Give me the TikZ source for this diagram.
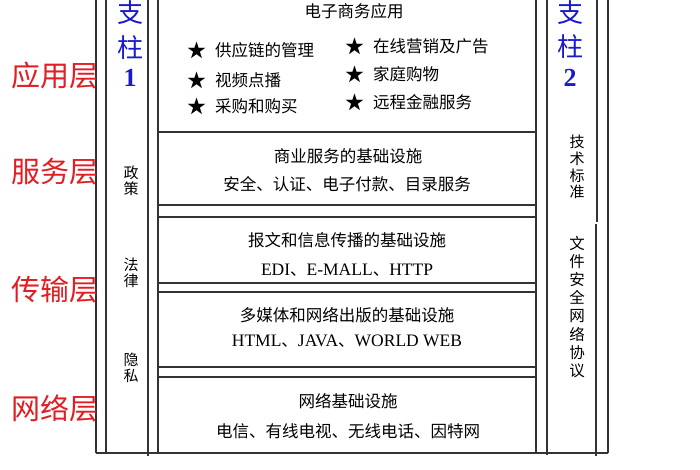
\documentclass[tikz,border=0pt]{standalone}
\usepackage{fontspec}
\setmainfont{Noto Sans CJK SC}
\newfontfamily\lat{Liberation Serif}
\newcommand{\latw}[1]{{\lat\fontsize{17.5}{18}\selectfont #1}}
\definecolor{layred}{RGB}{225,30,35}
\definecolor{pilblue}{RGB}{25,25,205}
\begin{document}
\begin{tikzpicture}[x=1pt,y=-1pt,
  frame/.style={line width=1.6pt, draw=black!80},
  body/.style={font=\fontsize{16.5}{18}\selectfont, inner sep=0pt},
  starmark/.style={font=\fontsize{19}{20}\selectfont, inner sep=0pt},
  layer/.style={font=\fontsize{29}{30}\selectfont, text=layred, inner sep=0pt},
  pillar/.style={font=\fontsize{26}{27}\selectfont, text=pilblue, inner sep=0pt},
  pnum/.style={font=\lat\bfseries\fontsize{26}{27}\selectfont, text=pilblue, inner sep=0pt},
  vert/.style={align=center, inner sep=0pt}]
\useasboundingbox (0,0) rectangle (700,470);
\fill[white] (0,0) rectangle (700,470);
% column lines
\draw[frame] (96,-3) -- (96,453);
\draw[frame] (106,-3) -- (106,453);
\draw[frame] (148,-3) -- (148,456);
\draw[frame] (547,-3) -- (547,455);
\draw[frame] (597,-3) -- (597,222);
\draw[frame] (596,224) -- (596,456);
\draw[frame] (608,-3) -- (608,453);
\draw[frame] (96,453) -- (608,453);
% layer boxes
\draw[frame] (158,-3) rectangle (536,132);
\draw[frame] (158,132) rectangle (536,205);
\draw[frame] (158,217) rectangle (536,283);
\draw[frame] (158,292) rectangle (536,367);
\draw[frame] (158,377) rectangle (536,453);
\draw[frame] (158,205) -- (158,377);
\draw[frame] (536,205) -- (536,377);
% box texts
\node[body] (t1) at (354,11) {电子商务应用};
\node[starmark] (s1) at (197,50) {★};
\node[body, anchor=west] (a1) at (215,50) {供应链的管理};
\node[starmark] (s2) at (197,80) {★};
\node[body, anchor=west] (a2) at (215,80) {视频点播};
\node[starmark] (s3) at (197,106) {★};
\node[body, anchor=west] (a3) at (215,106) {采购和购买};
\node[starmark] (s4) at (355,46) {★};
\node[body, anchor=west] (b1) at (373,46) {在线营销及广告};
\node[starmark] (s5) at (355,74) {★};
\node[body, anchor=west] (b2) at (373,74) {家庭购物};
\node[starmark] (s6) at (355,102) {★};
\node[body, anchor=west] (b3) at (373,102) {远程金融服务};
\node[body] (t2) at (348,156) {商业服务的基础设施};
\node[body] (t2b) at (347,184) {安全、认证、电子付款、目录服务};
\node[body] (t3) at (347,240) {报文和信息传播的基础设施};
\node[body] (t3b) at (347,270) {\latw{EDI}、\latw{E-MALL}、\latw{HTTP}};
\node[body] (t4) at (347,315) {多媒体和网络出版的基础设施};
\node[body] (t4b) at (347,341) {\latw{HTML}、\latw{JAVA}、\latw{WORLD WEB}};
\node[body] (t5) at (348,401) {网络基础设施};
\node[body] (t5b) at (348,431) {电信、有线电视、无线电话、因特网};
% pillar 1
\node[pillar] (z1) at (130,13) {支};
\node[pillar] (z2) at (130,48) {柱};
\node[pnum] (n1) at (130,78) {1};
\node[vert, font=\fontsize{15}{16.5}\selectfont] (p1) at (131,181) {政\\策};
\node[vert, font=\fontsize{15}{16.5}\selectfont] (p2) at (131,273) {法\\律};
\node[vert, font=\fontsize{15}{16.5}\selectfont] (p3) at (131,368) {隐\\私};
% pillar 2
\node[pillar] (y1) at (570,13) {支};
\node[pillar] (y2) at (570,47) {柱};
\node[pnum] (n2) at (570,78) {2};
\node[vert, font=\fontsize{15}{16.7}\selectfont] (q1) at (577,167) {技\\术\\标\\准};
\node[vert, font=\fontsize{15.5}{18.1}\selectfont] (q2) at (577,307) {文\\件\\安\\全\\网\\络\\协\\议};
% layer labels
\node[layer, anchor=west] (l1) at (11,75) {应用层};
\node[layer, anchor=west] (l2) at (11,172) {服务层};
\node[layer, anchor=west] (l3) at (11,290) {传输层};
\node[layer, anchor=west] (l4) at (11,408) {网络层};
\end{tikzpicture}
\end{document}
